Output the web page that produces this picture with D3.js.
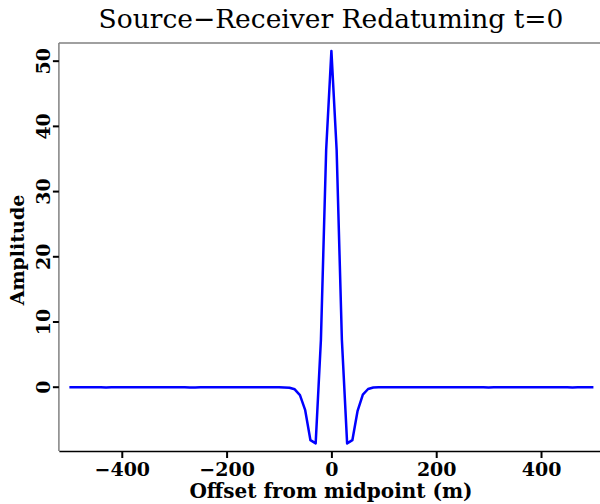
<!DOCTYPE html>
<html><head><meta charset="utf-8">
<script src="https://cdn.jsdelivr.net/npm/d3@7"></script>
<style>body{margin:0;background:#fff}svg{display:block}</style>
</head><body>
<script>
const offsets = d3.range(-500, 501, 10);
const amplitudes = [
 -0.1,-0.1,-0.1,-0.1,-0.1,-0.1,-0.1,-0.12,-0.1,-0.1,      // -500..-410
 -0.08,-0.1,-0.1,-0.1,-0.1,-0.1,-0.1,-0.1,-0.1,-0.1,      // -400..-310
 -0.1,-0.1,-0.1,-0.12,-0.12,-0.1,-0.1,-0.1,-0.08,-0.08,   // -300..-210
 -0.1,-0.1,-0.1,-0.1,-0.1,-0.1,-0.1,-0.08,-0.08,-0.1,     // -200..-110
 -0.1,-0.12,-0.15,-0.4,-1.3,-3.6,-8.2,-8.7,7.2,36.3,      // -100..-10
 51.5,                                                    // 0
 36.3,7.2,-8.7,-8.2,-3.7,-1.2,-0.35,-0.12,-0.1,-0.1,      // 10..100
 -0.1,-0.1,-0.1,-0.1,-0.1,-0.1,-0.1,-0.1,-0.08,-0.1,      // 110..200
 -0.1,-0.1,-0.1,-0.1,-0.1,-0.1,-0.1,-0.1,-0.1,-0.12,      // 210..300
 -0.1,-0.1,-0.1,-0.1,-0.1,-0.1,-0.1,-0.1,-0.08,-0.1,      // 310..400
 -0.1,-0.1,-0.1,-0.1,-0.1,-0.12,-0.1,-0.1,-0.1,-0.1       // 410..500
];
const xTicks = [-400, -200, 0, 200, 400];
const yTicks = [0, 10, 20, 30, 40, 50];
const title = "Source\u2212Receiver Redatuming t=0";
const xLabel = "Offset from midpoint (m)";
const yLabel = "Amplitude";

const W = 600, H = 504;
const L = 58.9, R = 603.9, T = 43, B = 451;
const font = "'DejaVu Serif', serif";

const svg = d3.select("body").append("svg").attr("width", W).attr("height", H);
const x = d3.scaleLinear().domain([-520, 520]).range([L, R]);
const y = d3.scaleLinear().domain([-9.86, 52.71]).range([B, T]);

// frame: top and left gray
svg.append("line").attr("x1", L).attr("x2", W).attr("y1", T).attr("y2", T)
  .attr("stroke", "#808080").attr("stroke-width", 1.5);
svg.append("line").attr("x1", L).attr("x2", L).attr("y1", T).attr("y2", B)
  .attr("stroke", "#808080").attr("stroke-width", 1.5);

// x axis
const xAxis = svg.append("g").attr("transform", `translate(0,${B})`)
  .call(d3.axisBottom(x).tickValues(xTicks).tickSizeOuter(0).tickSizeInner(7).tickPadding(5)
    .tickFormat(d => d < 0 ? "\u2212" + Math.abs(d) : d));
xAxis.select(".domain").attr("stroke", "#000").attr("stroke-width", 1.5);
xAxis.selectAll(".tick line").attr("stroke-width", 2);
xAxis.selectAll("text").attr("font-family", font).attr("font-weight", "bold").attr("font-size", 19).attr("fill", "#000");

// y axis
const yAxis = svg.append("g").attr("transform", `translate(${L},0)`)
  .call(d3.axisLeft(y).tickValues(yTicks).tickSizeOuter(0).tickSizeInner(6).tickFormat(d3.format("d")));
yAxis.select(".domain").remove();
yAxis.selectAll(".tick line").attr("stroke-width", 2);
yAxis.selectAll(".tick text")
  .attr("font-family", font).attr("font-weight", "bold").attr("font-size", 19).attr("fill", "#000")
  .attr("x", null).attr("dy", null)
  .attr("text-anchor", "middle")
  .attr("transform", "translate(-9,0) rotate(-90)");

// line
svg.append("path").datum(offsets.map((o, i) => [o, amplitudes[i]]))
  .attr("fill", "none").attr("stroke", "#0000ff").attr("stroke-width", 2.5)
  .attr("stroke-linejoin", "round")
  .attr("d", d3.line().x(d => x(d[0])).y(d => y(d[1])));

// title
svg.append("text").attr("x", 331).attr("y", 28).attr("text-anchor", "middle")
  .attr("font-family", font).attr("font-size", 26.5).attr("fill", "#000").text(title);
// x label
svg.append("text").attr("x", 331).attr("y", 498).attr("text-anchor", "middle")
  .attr("font-family", font).attr("font-weight", "bold").attr("font-size", 20).attr("fill", "#000").text(xLabel);
// y label
svg.append("text").attr("transform", `translate(24,${(T + B) / 2 + 3}) rotate(-90)`).attr("text-anchor", "middle")
  .attr("font-family", font).attr("font-weight", "bold").attr("font-size", 19).attr("fill", "#000").text(yLabel);
</script>
</body></html>
